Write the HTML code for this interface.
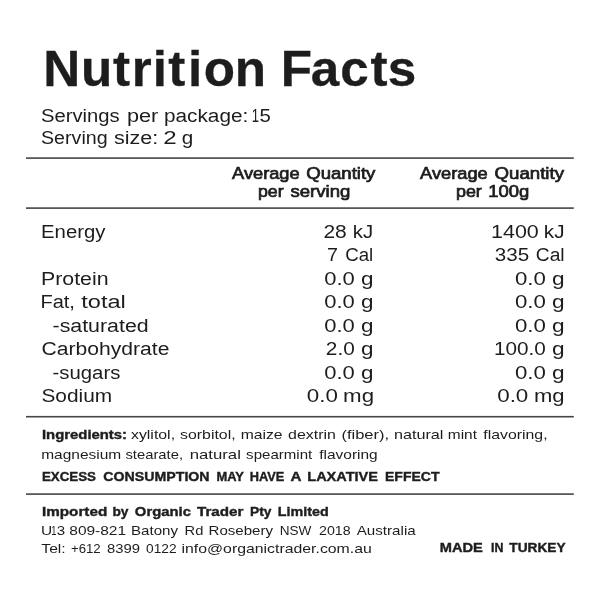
<!DOCTYPE html>
<html lang="en">
<head>
<meta charset="utf-8">
<title>Nutrition Facts</title>
<style>
html,body{margin:0;padding:0;background:#fff;}
body{width:600px;height:600px;overflow:hidden;}
svg{display:block;}
text{font-family:"Liberation Sans",sans-serif;fill:#1d1d1d;}
.b{font-weight:bold;}
.t{font-weight:bold;stroke:#1d1d1d;stroke-width:0.3;}
.s{stroke:#1d1d1d;stroke-width:0.4;}
.m{stroke:#1d1d1d;stroke-width:0.7;}
</style>
</head>
<body>
<svg width="600" height="600" viewBox="0 0 600 600">
<rect width="600" height="600" fill="#ffffff"/>
<rect x="26.0" y="157.30" width="547.80" height="1.6" fill="#454545"/>
<rect x="26.0" y="207.30" width="547.80" height="1.6" fill="#454545"/>
<rect x="26.0" y="415.90" width="547.80" height="1.6" fill="#454545"/>
<rect x="26.0" y="493.30" width="547.80" height="1.6" fill="#454545"/>
<text class="t" transform="scale(1.03 1)" x="42.02 78.70 109.69 127.90 148.31 163.33 182.63 197.73 227.88" y="86.0" font-size="49.7">Nutrition</text>
<text class="t" transform="scale(1.03 1)" x="272.66 301.65 330.26 359.64 376.37" y="86.0" font-size="49.7">Facts</text>
<text y="121.6" font-size="18"><tspan x="41.01" textLength="78.71" lengthAdjust="spacingAndGlyphs">Servings</tspan> <tspan x="126.96" textLength="31.37" lengthAdjust="spacingAndGlyphs">per</tspan> <tspan x="163.96" textLength="84.36" lengthAdjust="spacingAndGlyphs">package:</tspan> <tspan x="251.66" textLength="7.24" lengthAdjust="spacingAndGlyphs">1</tspan><tspan x="259.6" textLength="11.31" lengthAdjust="spacingAndGlyphs">5</tspan></text>
<text y="144.1" font-size="18"><tspan x="41.03" textLength="66.63" lengthAdjust="spacingAndGlyphs">Serving</tspan> <tspan x="114.04" textLength="44.28" lengthAdjust="spacingAndGlyphs">size:</tspan> <tspan x="163.24" textLength="13.41" lengthAdjust="spacingAndGlyphs">2</tspan> <tspan x="181.7" textLength="11.49" lengthAdjust="spacingAndGlyphs">g</tspan></text>
<text y="178.7" font-size="16.1"><tspan class="m" x="232.05" textLength="67.61" lengthAdjust="spacingAndGlyphs">Average</tspan> <tspan class="m" x="306.21" textLength="69.18" lengthAdjust="spacingAndGlyphs">Quantity</tspan></text>
<text y="197.1" font-size="16.1"><tspan class="m" x="257.99" textLength="25.58" lengthAdjust="spacingAndGlyphs">per</tspan> <tspan class="m" x="290.48" textLength="59.83" lengthAdjust="spacingAndGlyphs">serving</tspan></text>
<text y="178.7" font-size="16.1"><tspan class="m" x="420.06" textLength="67.72" lengthAdjust="spacingAndGlyphs">Average</tspan> <tspan class="m" x="494.5" textLength="69.53" lengthAdjust="spacingAndGlyphs">Quantity</tspan></text>
<text y="197.1" font-size="16.1"><tspan class="m" x="455.98" textLength="25.83" lengthAdjust="spacingAndGlyphs">per</tspan> <tspan class="m" x="488.22" textLength="41.01" lengthAdjust="spacingAndGlyphs">100g</tspan></text>
<text y="238.0" font-size="18"><tspan x="41.07" textLength="64.43" lengthAdjust="spacingAndGlyphs">Energy</tspan></text>
<text y="284.9" font-size="18"><tspan x="40.99" textLength="67.55" lengthAdjust="spacingAndGlyphs">Protein</tspan></text>
<text y="308.3" font-size="18"><tspan x="40.45" textLength="34.47" lengthAdjust="spacingAndGlyphs">Fat,</tspan> <tspan x="81.31" textLength="44.53" lengthAdjust="spacingAndGlyphs">total</tspan></text>
<text y="331.8" font-size="18"><tspan x="52.56" textLength="96.07" lengthAdjust="spacingAndGlyphs">-saturated</tspan></text>
<text y="355.2" font-size="18"><tspan x="41.49" textLength="127.94" lengthAdjust="spacingAndGlyphs">Carbohydrate</tspan></text>
<text y="378.65" font-size="18"><tspan x="52.6" textLength="67.76" lengthAdjust="spacingAndGlyphs">-sugars</tspan></text>
<text y="402.1" font-size="18"><tspan x="41.48" textLength="70.66" lengthAdjust="spacingAndGlyphs">Sodium</tspan></text>
<text y="238.0" font-size="18"><tspan x="323.43" textLength="23.33" lengthAdjust="spacingAndGlyphs">28</tspan> <tspan x="352.89" textLength="20.36" lengthAdjust="spacingAndGlyphs">kJ</tspan></text>
<text y="261.45" font-size="18"><tspan x="326.99" textLength="10.99" lengthAdjust="spacingAndGlyphs">7</tspan> <tspan x="345.22" textLength="28.01" lengthAdjust="spacingAndGlyphs">Cal</tspan></text>
<text y="284.9" font-size="18"><tspan x="324.24" textLength="30.55" lengthAdjust="spacingAndGlyphs">0.0</tspan> <tspan x="361.03" textLength="12.5" lengthAdjust="spacingAndGlyphs">g</tspan></text>
<text y="308.3" font-size="18"><tspan x="324.24" textLength="30.55" lengthAdjust="spacingAndGlyphs">0.0</tspan> <tspan x="361.03" textLength="12.5" lengthAdjust="spacingAndGlyphs">g</tspan></text>
<text y="331.8" font-size="18"><tspan x="324.24" textLength="30.55" lengthAdjust="spacingAndGlyphs">0.0</tspan> <tspan x="361.03" textLength="12.5" lengthAdjust="spacingAndGlyphs">g</tspan></text>
<text y="355.2" font-size="18"><tspan x="325.86" textLength="28.88" lengthAdjust="spacingAndGlyphs">2.0</tspan> <tspan x="361.03" textLength="12.5" lengthAdjust="spacingAndGlyphs">g</tspan></text>
<text y="378.65" font-size="18"><tspan x="324.24" textLength="30.55" lengthAdjust="spacingAndGlyphs">0.0</tspan> <tspan x="361.03" textLength="12.5" lengthAdjust="spacingAndGlyphs">g</tspan></text>
<text y="402.1" font-size="18"><tspan x="306.81" textLength="31.1" lengthAdjust="spacingAndGlyphs">0.0</tspan> <tspan x="343.1" textLength="30.99" lengthAdjust="spacingAndGlyphs">mg</tspan></text>
<text y="238.0" font-size="18"><tspan x="491.03" textLength="47.76" lengthAdjust="spacingAndGlyphs">1400</tspan> <tspan x="543.89" textLength="20.71" lengthAdjust="spacingAndGlyphs">kJ</tspan></text>
<text y="261.45" font-size="18"><tspan x="494.75" textLength="34.39" lengthAdjust="spacingAndGlyphs">335</tspan> <tspan x="535.72" textLength="28.92" lengthAdjust="spacingAndGlyphs">Cal</tspan></text>
<text y="284.9" font-size="18"><tspan x="514.98" textLength="30.89" lengthAdjust="spacingAndGlyphs">0.0</tspan> <tspan x="552.11" textLength="12.59" lengthAdjust="spacingAndGlyphs">g</tspan></text>
<text y="308.3" font-size="18"><tspan x="514.98" textLength="30.89" lengthAdjust="spacingAndGlyphs">0.0</tspan> <tspan x="552.11" textLength="12.59" lengthAdjust="spacingAndGlyphs">g</tspan></text>
<text y="331.8" font-size="18"><tspan x="514.98" textLength="30.89" lengthAdjust="spacingAndGlyphs">0.0</tspan> <tspan x="552.11" textLength="12.59" lengthAdjust="spacingAndGlyphs">g</tspan></text>
<text y="355.2" font-size="18"><tspan x="493.92" textLength="51.82" lengthAdjust="spacingAndGlyphs">100.0</tspan> <tspan x="552.11" textLength="12.59" lengthAdjust="spacingAndGlyphs">g</tspan></text>
<text y="378.65" font-size="18"><tspan x="514.98" textLength="30.89" lengthAdjust="spacingAndGlyphs">0.0</tspan> <tspan x="552.11" textLength="12.59" lengthAdjust="spacingAndGlyphs">g</tspan></text>
<text y="402.1" font-size="18"><tspan x="497.21" textLength="31.11" lengthAdjust="spacingAndGlyphs">0.0</tspan> <tspan x="533.92" textLength="30.6" lengthAdjust="spacingAndGlyphs">mg</tspan></text>
<text y="439.3" font-size="13.5"><tspan class="b s" x="41.99" textLength="85.04" lengthAdjust="spacingAndGlyphs">Ingredients:</tspan> <tspan x="130.98" textLength="44.08" lengthAdjust="spacingAndGlyphs">xylitol,</tspan> <tspan x="180.08" textLength="55.55" lengthAdjust="spacingAndGlyphs">sorbitol,</tspan> <tspan x="240.67" textLength="41.91" lengthAdjust="spacingAndGlyphs">maize</tspan> <tspan x="288.1" textLength="47.84" lengthAdjust="spacingAndGlyphs">dextrin</tspan> <tspan x="341.45" textLength="47.69" lengthAdjust="spacingAndGlyphs">(fiber),</tspan> <tspan x="393.95" textLength="49.46" lengthAdjust="spacingAndGlyphs">natural</tspan> <tspan x="447.8" textLength="29.2" lengthAdjust="spacingAndGlyphs">mint</tspan> <tspan x="483.28" textLength="64.3" lengthAdjust="spacingAndGlyphs">flavoring,</tspan></text>
<text y="458.8" font-size="13.5"><tspan x="41.18" textLength="80.04" lengthAdjust="spacingAndGlyphs">magnesium</tspan> <tspan x="125.45" textLength="57.58" lengthAdjust="spacingAndGlyphs">stearate,</tspan> <tspan x="189.73" textLength="51.16" lengthAdjust="spacingAndGlyphs">natural</tspan> <tspan x="246.14" textLength="66.07" lengthAdjust="spacingAndGlyphs">spearmint</tspan> <tspan x="319.24" textLength="58.45" lengthAdjust="spacingAndGlyphs">flavoring</tspan></text>
<text y="481.2" font-size="13.5"><tspan class="b s" x="41.88" textLength="54.12" lengthAdjust="spacingAndGlyphs">EXCESS</tspan> <tspan class="b s" x="103.29" textLength="106.31" lengthAdjust="spacingAndGlyphs">CONSUMPTION</tspan> <tspan class="b s" x="216.49" textLength="27.47" lengthAdjust="spacingAndGlyphs">MAY</tspan> <tspan class="b s" x="249.66" textLength="34.54" lengthAdjust="spacingAndGlyphs">HAVE</tspan> <tspan class="b s" x="290.44" textLength="10.97" lengthAdjust="spacingAndGlyphs">A</tspan> <tspan class="b s" x="307.27" textLength="70.73" lengthAdjust="spacingAndGlyphs">LAXATIVE</tspan> <tspan class="b s" x="385.01" textLength="54.43" lengthAdjust="spacingAndGlyphs">EFFECT</tspan></text>
<text y="515.7" font-size="13.5"><tspan class="b s" x="41.99" textLength="65.22" lengthAdjust="spacingAndGlyphs">Imported</tspan> <tspan class="b s" x="112.4" textLength="16.06" lengthAdjust="spacingAndGlyphs">by</tspan> <tspan class="b s" x="134.85" textLength="56.06" lengthAdjust="spacingAndGlyphs">Organic</tspan> <tspan class="b s" x="196.99" textLength="46.43" lengthAdjust="spacingAndGlyphs">Trader</tspan> <tspan class="b s" x="250.01" textLength="21.4" lengthAdjust="spacingAndGlyphs">Pty</tspan> <tspan class="b s" x="277.79" textLength="50.89" lengthAdjust="spacingAndGlyphs">Limited</tspan></text>
<text y="534.6" font-size="13.5"><tspan x="41.12" textLength="11.18" lengthAdjust="spacingAndGlyphs">U</tspan><tspan x="51.36" textLength="5.18" lengthAdjust="spacingAndGlyphs">1</tspan><tspan x="56.73" textLength="8.4" lengthAdjust="spacingAndGlyphs">3</tspan> <tspan x="69.31" textLength="56.79" lengthAdjust="spacingAndGlyphs">809-821</tspan> <tspan x="130.99" textLength="46.99" lengthAdjust="spacingAndGlyphs">Batony</tspan> <tspan x="184.5" textLength="18.83" lengthAdjust="spacingAndGlyphs">Rd</tspan> <tspan x="208.55" textLength="64.45" lengthAdjust="spacingAndGlyphs">Rosebery</tspan> <tspan x="279.72" textLength="31.68" lengthAdjust="spacingAndGlyphs">NSW</tspan> <tspan x="319.02" textLength="31.56" lengthAdjust="spacingAndGlyphs">2018</tspan> <tspan x="356.74" textLength="58.97" lengthAdjust="spacingAndGlyphs">Australia</tspan></text>
<text y="552.9" font-size="13.5"><tspan x="41.32" textLength="24.38" lengthAdjust="spacingAndGlyphs">Tel:</tspan> <tspan x="70.97" textLength="29.73" lengthAdjust="spacingAndGlyphs">+612</tspan> <tspan x="107.05" textLength="32.94" lengthAdjust="spacingAndGlyphs">8399</tspan> <tspan x="146.06" textLength="30.57" lengthAdjust="spacingAndGlyphs">0122</tspan> <tspan x="181.49" textLength="190.32" lengthAdjust="spacingAndGlyphs">info@organictrader.com.au</tspan> <tspan class="b s" x="439.76" y="552.4" textLength="43.07" lengthAdjust="spacingAndGlyphs">MADE</tspan> <tspan class="b s" x="491.0" y="552.4" textLength="12.36" lengthAdjust="spacingAndGlyphs">IN</tspan> <tspan class="b s" x="509.36" y="552.4" textLength="56.28" lengthAdjust="spacingAndGlyphs">TURKEY</tspan></text>
</svg>
</body>
</html>
